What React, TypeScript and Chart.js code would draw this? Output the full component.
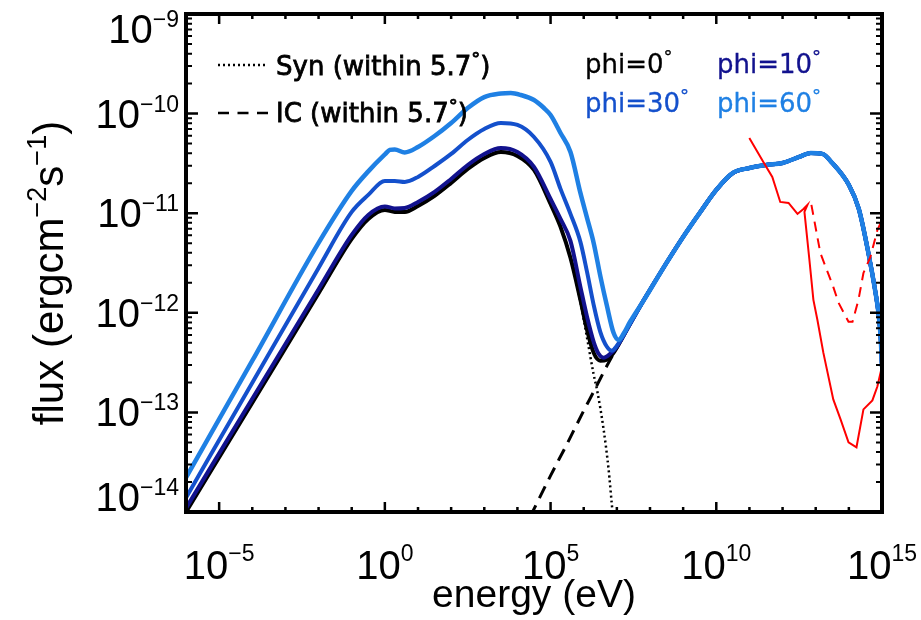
import { useEffect, useRef } from 'react';
import { Chart, registerables } from 'chart.js';

Chart.register(...registerables);

// ---- data (log10 energy [eV], log10 flux [erg cm^-2 s^-1]) ----
const phi0LogE = [-6, -4, -2, -1, -0.5, 0, 0.3, 0.6, 1.0, 1.5, 2.0, 2.5, 3.0, 3.5, 4.0, 4.5, 5.0, 5.3, 5.6, 5.9, 6.1, 6.3, 6.5, 6.7, 6.9, 7.1, 7.4, 7.8];
const phi0LogF = [-14.0, -12.903, -11.804, -11.258, -11.057, -10.967, -10.987, -10.987, -10.927, -10.826, -10.696, -10.556, -10.445, -10.385, -10.425, -10.566, -10.907, -11.137, -11.448, -11.87, -12.171, -12.401, -12.481, -12.471, -12.401, -12.291, -12.11, -11.88];

const phi10LogE = [-6, -4, -2, -1, -0.5, 0, 0.3, 0.6, 1.0, 1.5, 2.0, 2.5, 3.0, 3.5, 4.0, 4.5, 5.0, 5.3, 5.6, 5.9, 6.1, 6.3, 6.45, 6.6, 6.8, 7.0, 7.4, 7.8];
const phi10LogF = [-13.961, -12.863, -11.764, -11.218, -11.017, -10.932, -10.952, -10.947, -10.887, -10.786, -10.656, -10.516, -10.405, -10.345, -10.385, -10.535, -10.857, -11.057, -11.278, -11.739, -12.04, -12.291, -12.411, -12.451, -12.411, -12.341, -12.11, -11.88];

const phi30LogE = [-6, -4, -2, -1, -0.5, 0, 0.3, 0.6, 1.0, 1.5, 2.0, 2.5, 3.0, 3.5, 4.0, 4.5, 5.0, 5.3, 5.6, 5.9, 6.1, 6.3, 6.5, 6.7, 6.85, 7.0, 7.1, 7.4, 7.8];
const phi30LogF = [-13.856, -12.702, -11.549, -10.987, -10.816, -10.676, -10.676, -10.686, -10.636, -10.526, -10.405, -10.265, -10.155, -10.094, -10.114, -10.235, -10.485, -10.756, -11.007, -11.288, -11.589, -11.92, -12.191, -12.341, -12.381, -12.331, -12.281, -12.11, -11.88];

const phi60LogE = [-6, -4, -2, -1, -0.5, 0, 0.15, 0.3, 0.6, 1.0, 1.5, 2.0, 2.5, 3.0, 3.5, 3.8, 4.1, 4.5, 4.8, 5.0, 5.3, 5.6, 5.9, 6.1, 6.3, 6.5, 6.7, 6.9, 7.05, 7.2, 7.4, 7.8];
const phi60LogF = [-13.655, -12.481, -11.298, -10.776, -10.58, -10.41, -10.365, -10.36, -10.39, -10.335, -10.225, -10.094, -9.944, -9.834, -9.798, -9.793, -9.813, -9.864, -9.944, -10.014, -10.195, -10.385, -10.796, -11.047, -11.298, -11.629, -11.93, -12.201, -12.271, -12.211, -12.09, -11.88];

// common inverse-Compton tail shared by all viewing angles
const tailLogE = [8.5, 9.0, 9.5, 10.0, 10.5, 11.0, 11.5, 12.0, 12.5, 12.85, 13.2, 13.5, 14.0, 14.3, 14.6, 14.8, 14.9, 14.96, 15.0];
const tailLogF = [-11.498, -11.238, -10.997, -10.766, -10.596, -10.546, -10.516, -10.496, -10.435, -10.395, -10.405, -10.496, -10.716, -10.957, -11.418, -11.789, -12.02, -12.25, -12.542];

const synLogE = [-6, -4, -2, -1, -0.5, 0, 0.3, 0.6, 1.0, 1.5, 2.0, 2.5, 3.0, 3.5, 4.0, 4.5, 5.0, 5.3, 5.6, 5.9, 6.1, 6.3, 6.4, 6.6, 6.75, 6.85, 6.92];
const synLogF = [-14.0, -12.903, -11.804, -11.258, -11.057, -10.967, -10.987, -10.987, -10.927, -10.826, -10.696, -10.556, -10.445, -10.385, -10.425, -10.566, -10.907, -11.137, -11.448, -11.89, -12.25, -12.62, -12.77, -13.17, -13.57, -13.93, -14.18];

const icLogE = [4.38, 5.0, 5.5, 6.0, 6.3, 6.5, 6.7, 7.0, 7.4, 7.8];
const icLogF = [-14.05, -13.635, -13.314, -12.983, -12.792, -12.662, -12.532, -12.351, -12.11, -11.88];

const sensSolidLogE = [10.997, 11.42, 11.69, 11.93, 12.18, 12.45, 12.63, 12.75, 12.66, 12.81, 12.93, 13.05, 13.23, 13.53, 13.75, 13.99, 14.23, 14.44, 14.71, 14.86, 15.0];
const sensSolidLogF = [-10.245, -10.485, -10.636, -10.887, -10.897, -11.007, -10.957, -10.917, -10.987, -11.47, -11.87, -12.07, -12.4, -12.87, -13.07, -13.3, -13.35, -12.97, -12.88, -12.74, -12.54];

const sensDashLogE = [12.87, 13.14, 13.53, 13.69, 13.99, 14.11, 14.29, 14.44, 14.65, 14.86, 15.0];
const sensDashLogF = [-10.917, -11.4, -11.74, -11.9, -12.09, -12.09, -11.87, -11.6, -11.44, -11.17, -11.07];

const xMajorExp = [-5, 0, 5, 10, 15];
const yMajorExp = [-14, -13, -12, -11, -10, -9];

const phiLabels = ['phi=0', 'phi=10', 'phi=30', 'phi=60'];
const phiColors = ['#000000', '#12128e', '#1450cc', '#1f80e4'];

const LABEL_FONT = '"Liberation Sans", Arial, sans-serif';
const TEXT_FONT = '"DejaVu Sans", sans-serif';

function pts(le: number[], lf: number[]) {
  return le.map((e, i) => ({ x: Math.pow(10, e), y: Math.pow(10, lf[i]) }));
}

type Seg = { t: string; size: number; dy: number };

function segWidth(ctx: CanvasRenderingContext2D, segs: Seg[], family: string) {
  let w = 0;
  for (const s of segs) {
    ctx.font = `${s.size}px ${family}`;
    w += ctx.measureText(s.t).width;
  }
  return w;
}

function drawSegs(ctx: CanvasRenderingContext2D, segs: Seg[], x: number, y: number, family: string, stroke = 0) {
  let cx = x;
  for (const s of segs) {
    ctx.font = `${s.size}px ${family}`;
    ctx.fillText(s.t, cx, y + s.dy);
    if (stroke > 0) {
      ctx.lineWidth = stroke;
      ctx.strokeStyle = ctx.fillStyle as string;
      ctx.strokeText(s.t, cx, y + s.dy);
    }
    cx += ctx.measureText(s.t).width;
  }
}

const expText = (e: number) => String(e).replace('-', '\u2212');

const framePlugin = {
  id: 'idlFrame',
  afterDraw(chart: any) {
    const ctx: CanvasRenderingContext2D = chart.ctx;
    const { left, right, top, bottom } = chart.chartArea;
    const xs = chart.scales.x;
    const ys = chart.scales.y;
    ctx.save();
    ctx.strokeStyle = '#000';
    ctx.fillStyle = '#000';
    // frame
    ctx.lineWidth = 4;
    ctx.strokeRect(left, top, right - left, bottom - top);
    // x ticks (every decade, long ones every 5 decades)
    ctx.lineWidth = 2.5;
    for (let e = -6; e <= 15; e++) {
      const px = xs.getPixelForValue(Math.pow(10, e));
      const len = xMajorExp.includes(e) ? 10 : 5;
      ctx.beginPath();
      ctx.moveTo(px, bottom);
      ctx.lineTo(px, bottom - len);
      ctx.moveTo(px, top);
      ctx.lineTo(px, top + len);
      ctx.stroke();
    }
    // y ticks
    for (let e = -14; e <= -10; e++) {
      for (let m = 1; m <= 9; m++) {
        const v = m * Math.pow(10, e);
        const py = ys.getPixelForValue(v);
        const len = m === 1 ? 12 : 6;
        ctx.lineWidth = m === 1 ? 2.5 : 2;
        ctx.beginPath();
        ctx.moveTo(left, py);
        ctx.lineTo(left + len, py);
        ctx.moveTo(right, py);
        ctx.lineTo(right - len, py);
        ctx.stroke();
      }
    }
    // x tick labels
    ctx.textBaseline = 'alphabetic';
    ctx.textAlign = 'left';
    for (const e of xMajorExp) {
      const px = xs.getPixelForValue(Math.pow(10, e));
      const segs: Seg[] = [
        { t: '10', size: 40, dy: 0 },
        { t: expText(e), size: 23, dy: -18 },
      ];
      const w = segWidth(ctx, segs, LABEL_FONT);
      drawSegs(ctx, segs, px - w / 2, 579, LABEL_FONT);
    }
    // y tick labels (right aligned, end ones pulled inside)
    for (const e of yMajorExp) {
      const py = ys.getPixelForValue(Math.pow(10, e));
      const segs: Seg[] = [
        { t: '10', size: 40, dy: 0 },
        { t: expText(e), size: 23, dy: -16 },
      ];
      const w = segWidth(ctx, segs, LABEL_FONT);
      let base = py + 14;
      if (e === -9) base = py + 29;
      if (e === -14) base = py - 1;
      drawSegs(ctx, segs, 179 - w, base, LABEL_FONT);
    }
    // axis titles
    {
      const segs: Seg[] = [{ t: 'energy (eV)', size: 39, dy: 0 }];
      const w = segWidth(ctx, segs, LABEL_FONT);
      drawSegs(ctx, segs, (left + right) / 2 - w / 2, 607, LABEL_FONT);
    }
    {
      const segs: Seg[] = [
        { t: 'flux (ergcm', size: 42, dy: 0 },
        { t: '\u22122', size: 27, dy: -17 },
        { t: 's', size: 42, dy: 0 },
        { t: '\u22121', size: 27, dy: -17 },
        { t: ')', size: 42, dy: 0 },
      ];
      const w = segWidth(ctx, segs, LABEL_FONT);
      ctx.save();
      ctx.translate(63, 273);
      ctx.rotate(-Math.PI / 2);
      drawSegs(ctx, segs, -w / 2, 0, LABEL_FONT);
      ctx.restore();
    }
    // component legend
    ctx.lineWidth = 2.5;
    ctx.setLineDash([2, 3]);
    ctx.beginPath();
    ctx.moveTo(218, 65);
    ctx.lineTo(268, 65);
    ctx.stroke();
    ctx.setLineDash([11, 8.5]);
    ctx.beginPath();
    ctx.moveTo(218, 113);
    ctx.lineTo(268, 113);
    ctx.stroke();
    ctx.setLineDash([]);
    drawSegs(ctx, [
      { t: 'Syn (within 5.7', size: 26, dy: 0 },
      { t: '\u00B0', size: 18, dy: -10 },
      { t: ')', size: 26, dy: 0 },
    ], 276, 75, TEXT_FONT, 0.8);
    drawSegs(ctx, [
      { t: 'IC (within 5.7', size: 26, dy: 0 },
      { t: '\u00B0', size: 18, dy: -10 },
      { t: ')', size: 26, dy: 0 },
    ], 276, 122, TEXT_FONT, 0.8);
    // viewing-angle legend
    const pos = [[585, 73], [717, 73], [585, 112], [717, 112]];
    phiLabels.forEach((lab, i) => {
      ctx.fillStyle = phiColors[i];
      drawSegs(ctx, [
        { t: lab, size: 26, dy: 0 },
        { t: '\u00B0', size: 18, dy: -10 },
      ], pos[i][0], pos[i][1], TEXT_FONT, 0.3);
    });
    ctx.restore();
  },
};

export default function App() {
  const ref = useRef<HTMLCanvasElement | null>(null);
  useEffect(() => {
    document.body.style.margin = '0';
    const canvas = ref.current!;
    const tail = pts(tailLogE, tailLogF);
    const curve = (le: number[], lf: number[]) => pts(le, lf).concat(tail);
    const common = { pointRadius: 0, fill: false, cubicInterpolationMode: 'monotone' as const };
    const chart = new Chart(canvas, {
      type: 'line',
      data: {
        datasets: [
          { label: 'Syn', data: pts(synLogE, synLogF), borderColor: '#000', borderWidth: 2.5, borderDash: [2, 3], order: 10, ...common },
          { label: 'IC', data: pts(icLogE, icLogF).concat(tail), borderColor: '#000', borderWidth: 3, borderDash: [13, 8], order: 9, ...common },
          { label: phiLabels[0], data: curve(phi0LogE, phi0LogF), borderColor: phiColors[0], borderWidth: 4, order: 5, ...common },
          { label: phiLabels[1], data: curve(phi10LogE, phi10LogF), borderColor: phiColors[1], borderWidth: 4, order: 4, ...common },
          { label: phiLabels[2], data: curve(phi30LogE, phi30LogF), borderColor: phiColors[2], borderWidth: 4, order: 3, ...common },
          { label: phiLabels[3], data: curve(phi60LogE, phi60LogF), borderColor: phiColors[3], borderWidth: 4.5, order: 2, ...common },
          { label: 'sensitivity', data: pts(sensSolidLogE, sensSolidLogF), borderColor: '#ff0000', borderWidth: 2, pointRadius: 0, tension: 0, order: 0 },
          { label: 'sensitivity (dashed)', data: pts(sensDashLogE, sensDashLogF), borderColor: '#ff0000', borderWidth: 2, borderDash: [10, 7], pointRadius: 0, tension: 0, order: 0 },
        ],
      },
      options: {
        animation: false,
        responsive: false,
        maintainAspectRatio: false,
        layout: { padding: { left: 0, right: 39, top: 14, bottom: 0 } },
        plugins: { legend: { display: false }, tooltip: { enabled: false }, title: { display: false } },
        scales: {
          x: {
            type: 'logarithmic',
            min: 1e-6,
            max: 1e15,
            grid: { display: false },
            border: { display: false },
            ticks: { display: false },
            afterFit: (s: any) => { s.height = 108; },
          },
          y: {
            type: 'logarithmic',
            min: 1e-14,
            max: 1e-9,
            grid: { display: false },
            border: { display: false },
            ticks: { display: false },
            afterFit: (s: any) => { s.width = 186; },
          },
        },
      },
      plugins: [framePlugin],
    });
    return () => chart.destroy();
  }, []);
  return (
    <div style={{ position: 'absolute', left: 0, top: 0, width: 921, height: 620, background: '#fff' }}>
      <canvas ref={ref} width={921} height={620} style={{ width: 921, height: 620, display: 'block' }} />
    </div>
  );
}
